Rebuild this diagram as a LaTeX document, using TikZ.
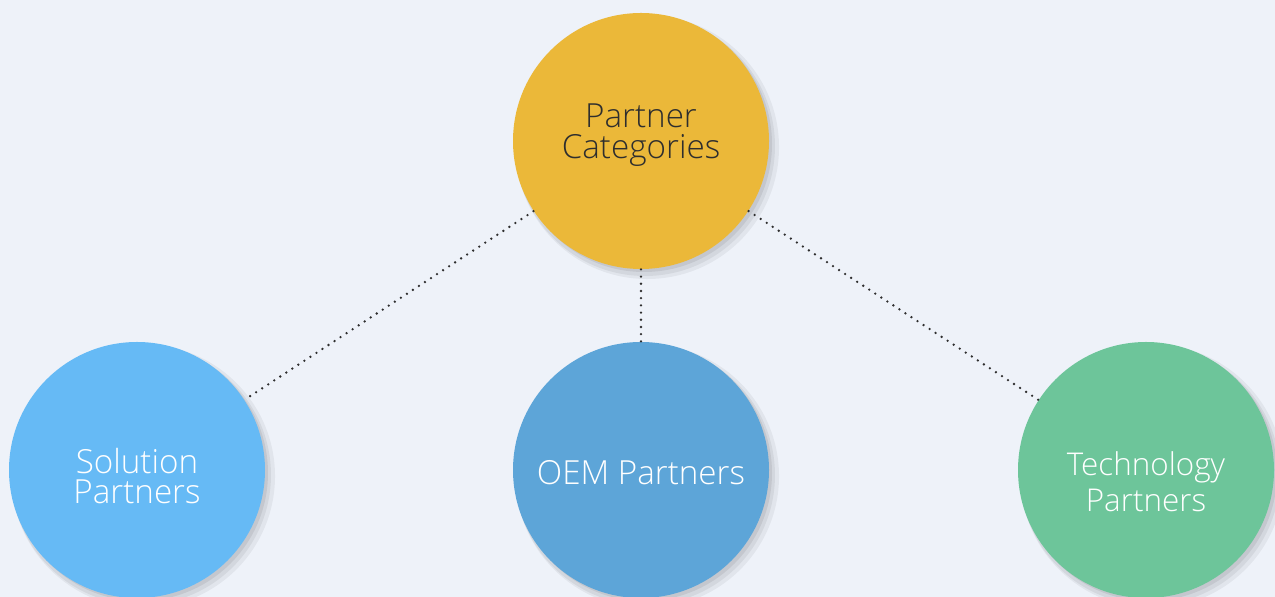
\documentclass[tikz,border=0pt]{standalone}
\usepackage{fontspec}
\setmainfont{Open Sans}[UprightFont=* Light]
\usetikzlibrary{shadows}
\definecolor{bgc}{HTML}{EEF2F9}
\definecolor{cyel}{HTML}{EBB839}
\definecolor{clblue}{HTML}{66BAF5}
\definecolor{cmblue}{HTML}{5DA5D8}
\definecolor{cgreen}{HTML}{6DC59A}
\definecolor{ctext}{HTML}{2E2E2E}
\newcommand{\shiftbox}[2]{\raisebox{#1}[\height][\depth]{#2}}
\tikzset{
  bubble/.style={circle, minimum size=128pt, inner sep=0pt, align=center,
    font=\fontsize{16.6}{16}\selectfont,
    drop shadow={shadow scale=1.03, shadow xshift=3pt, shadow yshift=-3pt, opacity=0.05, fill=black},
    drop shadow={shadow scale=1.015, shadow xshift=2pt, shadow yshift=-2.5pt, opacity=0.06, fill=black},
    drop shadow={shadow scale=1.0, shadow xshift=1.5pt, shadow yshift=-1.5pt, opacity=0.07, fill=black}},
  link/.style={line width=1.3pt, line cap=round, dash pattern=on 0pt off 3.6pt, draw=ctext}
}
\begin{document}
\begin{tikzpicture}[x=0.5pt, y=-0.5pt]
\fill[bgc] (0,0) rectangle (1275,597);
\useasboundingbox (0,0) rectangle (1275,597);
\node[bubble, fill=cyel, text=ctext] (top) at (641,141) {\shiftbox{3pt}{\shortstack{Partner\\Categories}}};
\node[bubble, fill=clblue, text=white] (sol) at (137,470) {\shiftbox{-3pt}{\shortstack{Solution\\Partners}}};
\node[bubble, fill=cmblue, text=white] (oem) at (641,470) {\shiftbox{-1.5pt}{OEM Partners}};
\node[bubble, fill=cgreen, text=white, font=\fontsize{15.7}{16}\selectfont] (tec) at (1146,470) {\shiftbox{-6pt}{\shortstack{Technology\\Partners}}};
\draw[link] (top) -- (sol);
\draw[link] (top) -- (oem);
\draw[link] (top) -- (tec);
\end{tikzpicture}
\end{document}
